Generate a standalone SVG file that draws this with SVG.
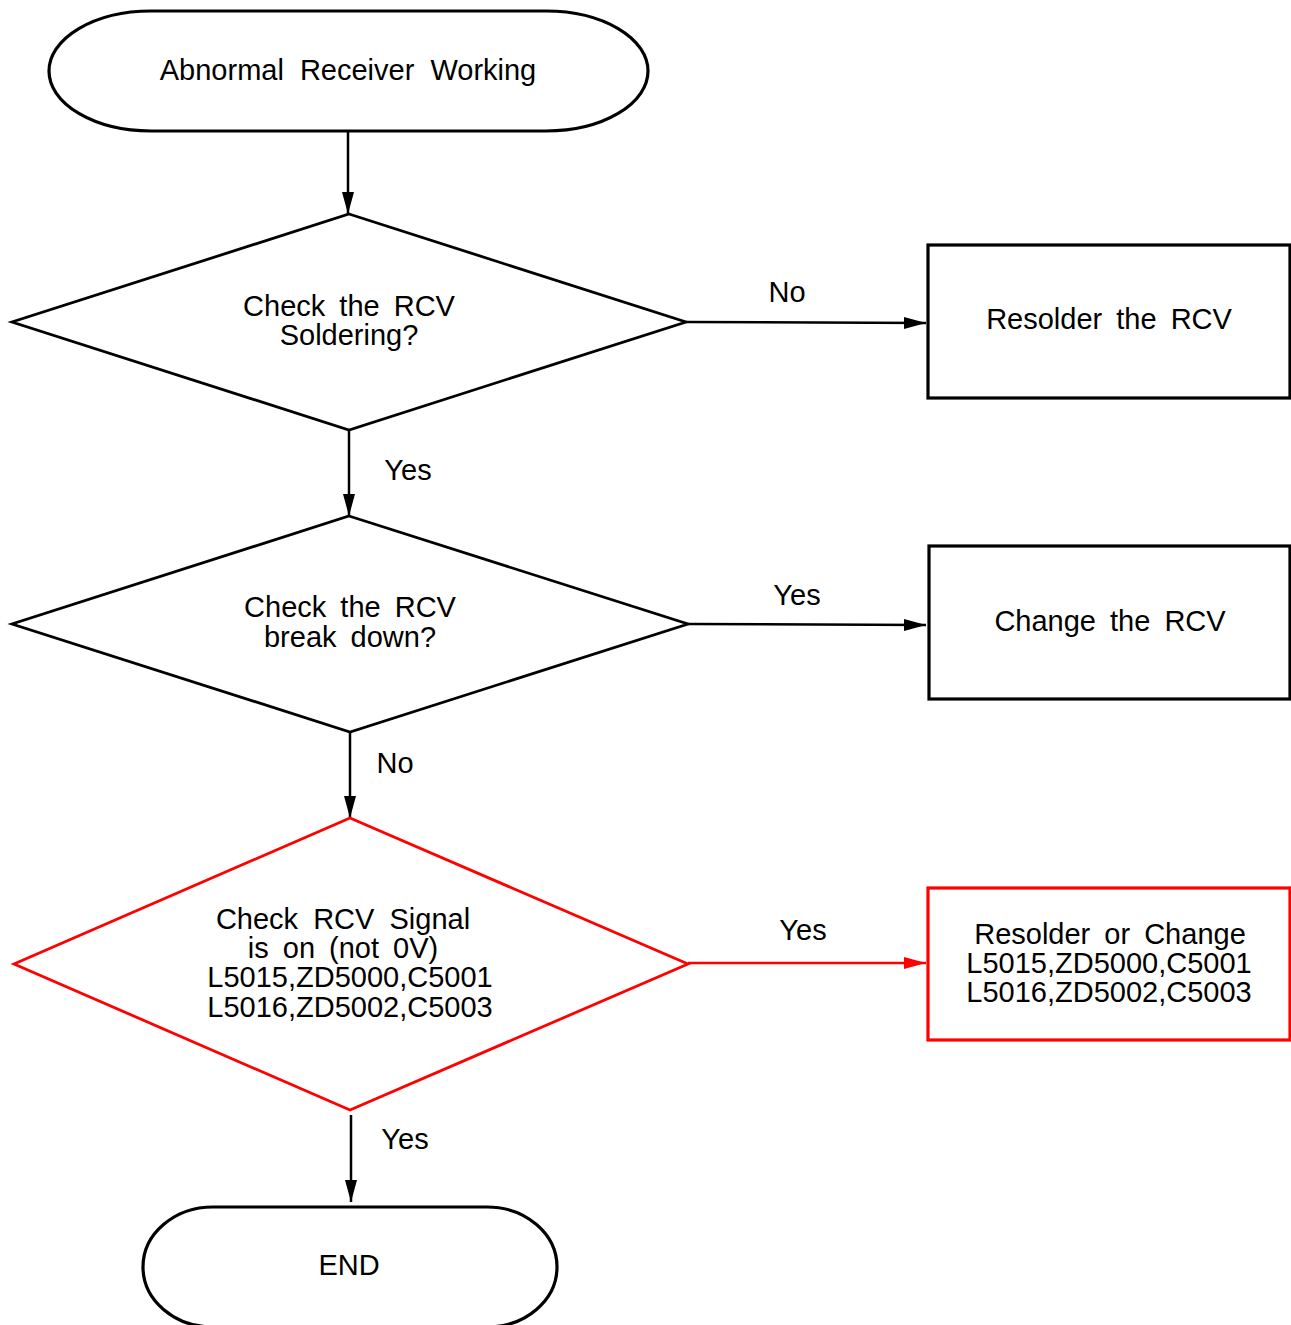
<svg xmlns="http://www.w3.org/2000/svg" width="1291" height="1325" viewBox="0 0 1291 1325">
<style>
text{font-family:"Liberation Sans",Arial,sans-serif;font-size:29px;fill:#000;text-anchor:middle;word-spacing:6px}
.lbl{word-spacing:0}
.term{fill:#fff;stroke:#000;stroke-width:3.2}
.dia{fill:#fff;stroke:#000;stroke-width:2.8}
.box{fill:#fff;stroke:#000;stroke-width:3.2}
.red{stroke:#f00}
.con{fill:none;stroke:#000;stroke-width:2.5}
.con.r{stroke:#f00}
</style>
<defs>
<marker id="ah" markerUnits="userSpaceOnUse" markerWidth="22" markerHeight="14" refX="22" refY="7" orient="auto"><path d="M0,1 L22,7 L0,13 Z" fill="#000"/></marker>
<marker id="ahr" markerUnits="userSpaceOnUse" markerWidth="22" markerHeight="14" refX="22" refY="7" orient="auto"><path d="M0,1 L22,7 L0,13 Z" fill="#f00"/></marker>
</defs>
<rect width="1291" height="1325" fill="#fff"/>
<g id="connectors">
<line class="con" x1="348" y1="131" x2="348" y2="214" marker-end="url(#ah)"/>
<line class="con" x1="686" y1="322" x2="926" y2="323" marker-end="url(#ah)"/>
<line class="con" x1="349" y1="430" x2="349" y2="516" marker-end="url(#ah)"/>
<line class="con" x1="688" y1="624" x2="926" y2="625" marker-end="url(#ah)"/>
<line class="con" x1="350" y1="732" x2="350" y2="818" marker-end="url(#ah)"/>
<line class="con r" x1="688" y1="963" x2="926" y2="963" marker-end="url(#ahr)"/>
<line class="con" x1="351" y1="1115" x2="351" y2="1202" marker-end="url(#ah)"/>
<text class="lbl" x="787" y="302">No</text>
<text class="lbl" x="408" y="480">Yes</text>
<text class="lbl" x="797" y="605">Yes</text>
<text class="lbl" x="395" y="773">No</text>
<text class="lbl" x="803" y="940">Yes</text>
<text class="lbl" x="405" y="1149">Yes</text>
</g>
<g id="start">
<path class="term" d="M151,11 H546 A102,60 0 0 1 546,131 H151 A102,60 0 0 1 151,11 Z"/>
<text x="348" y="80" style="word-spacing:8px">Abnormal Receiver Working</text>
</g>
<g id="check-soldering">
<polygon class="dia" points="349,214 686,322 349,430 12,322"/>
<text x="349" y="316">Check the RCV</text>
<text x="349" y="345">Soldering?</text>
</g>
<g id="resolder">
<rect class="box" x="928" y="245" width="362" height="153"/>
<text x="1109" y="329">Resolder the RCV</text>
</g>
<g id="check-breakdown">
<polygon class="dia" points="349,516 688,624 350,732 12,624"/>
<text x="350" y="617">Check the RCV</text>
<text x="350" y="647">break down?</text>
</g>
<g id="change">
<rect class="box" x="929" y="546" width="361" height="153"/>
<text x="1110" y="631">Change the RCV</text>
</g>
<g id="check-signal">
<polygon class="dia red" points="350,818 688,964 350,1110 14,964"/>
<text x="343" y="929" style="word-spacing:7px">Check RCV Signal</text>
<text x="343" y="958">is on (not 0V)</text>
<text x="350" y="987">L5015,ZD5000,C5001</text>
<text x="350" y="1017">L5016,ZD5002,C5003</text>
</g>
<g id="resolder-change">
<rect class="box red" x="928" y="888" width="362" height="152"/>
<text x="1110" y="944">Resolder or Change</text>
<text x="1109" y="973">L5015,ZD5000,C5001</text>
<text x="1109" y="1002">L5016,ZD5002,C5003</text>
</g>
<g id="end">
<path class="term" d="M213,1207 H487 A70,60 0 0 1 487,1327 H213 A70,60 0 0 1 213,1207 Z"/>
<text x="349" y="1275">END</text>
</g>
</svg>
